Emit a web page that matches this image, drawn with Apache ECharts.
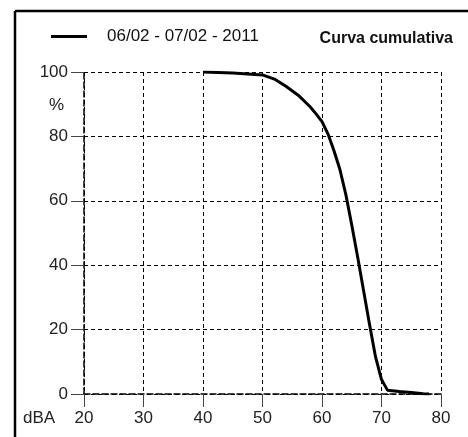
<!DOCTYPE html>
<html><head><meta charset="utf-8">
<script src="https://cdn.jsdelivr.net/npm/echarts@6/dist/echarts.min.js"></script>
<style>html,body{margin:0;padding:0;background:#fff}#c{width:468px;height:437px}</style>
</head><body><div id="c"></div>
<script>
var seriesName = '06/02 - 07/02 - 2011';
var titleText = 'Curva cumulativa';
var dBA = [40, 45, 50, 52, 54, 56, 58, 59, 60, 61, 62, 63, 64, 65, 66, 67, 68, 69, 70, 71, 73, 75, 77, 78];
var pct = [100, 99.7, 99.1, 97.8, 95.5, 92.8, 89.2, 87, 84.6, 80.8, 75.6, 69.8, 62, 52.5, 42.5, 32, 21.5, 11.5, 4.5, 1.2, 0.8, 0.5, 0.1, 0];
var xTicks = [20, 30, 40, 50, 60, 70, 80];
var yTicks = [0, 20, 40, 60, 80, 100];

var font = 'Liberation Sans, Arial, sans-serif';
var chart = echarts.init(document.getElementById('c'), null, {renderer: 'canvas'});
var data = dBA.map(function (v, i) { return [v, pct[i]]; });
chart.setOption({
  animation: false,
  backgroundColor: '#fff',
  title: {text: titleText, right: 10, top: 26, textStyle: {fontFamily: font, fontSize: 16, fontWeight: 'bold', color: '#111'}},
  legend: {
    left: 46, top: 23, icon: 'rect', itemWidth: 36, itemHeight: 3, itemGap: 10,
    textStyle: {fontFamily: font, fontSize: 17, color: '#111', padding: [0, 0, 0, 15]},
    data: [seriesName]
  },
  grid: {left: 84, right: 27, top: 72, bottom: 43},
  xAxis: {
    type: 'value', min: xTicks[0], max: xTicks[xTicks.length - 1], interval: 10,
    axisLine: {show: true, lineStyle: {color: '#000', width: 1.5, type: 'dashed'}},
    axisTick: {show: true, length: 13, lineStyle: {color: '#444'}},
    axisLabel: {fontFamily: font, fontSize: 17, color: '#222', margin: 16},
    splitLine: {show: true, lineStyle: {color: '#000', type: [4, 3], width: 1}}
  },
  yAxis: {
    type: 'value', min: yTicks[0], max: yTicks[yTicks.length - 1], interval: 20,
    axisLine: {show: true, lineStyle: {color: '#000', width: 1.5, type: 'dashed'}},
    axisTick: {show: true, length: 13, lineStyle: {color: '#444'}},
    axisLabel: {fontFamily: font, fontSize: 17, color: '#222', margin: 16},
    splitLine: {show: true, lineStyle: {color: '#000', type: [4, 3], width: 1}}
  },
  graphic: [
    {type: 'line', shape: {x1: 15, y1: 11, x2: 468, y2: 11}, style: {stroke: '#000', lineWidth: 2.5}},
    {type: 'line', shape: {x1: 15, y1: 11, x2: 15, y2: 437}, style: {stroke: '#000', lineWidth: 2.5}},
    {type: 'text', left: 49, top: 97, style: {text: '%', font: '17px ' + font, fill: '#222'}},
    {type: 'text', left: 23, top: 410, style: {text: 'dBA', font: '17px ' + font, fill: '#222'}}
  ],
  series: [{
    name: seriesName, type: 'line', data: data, showSymbol: false, smooth: false,
    lineStyle: {color: '#000', width: 3}, itemStyle: {color: '#000'}
  }]
});
</script></body></html>
